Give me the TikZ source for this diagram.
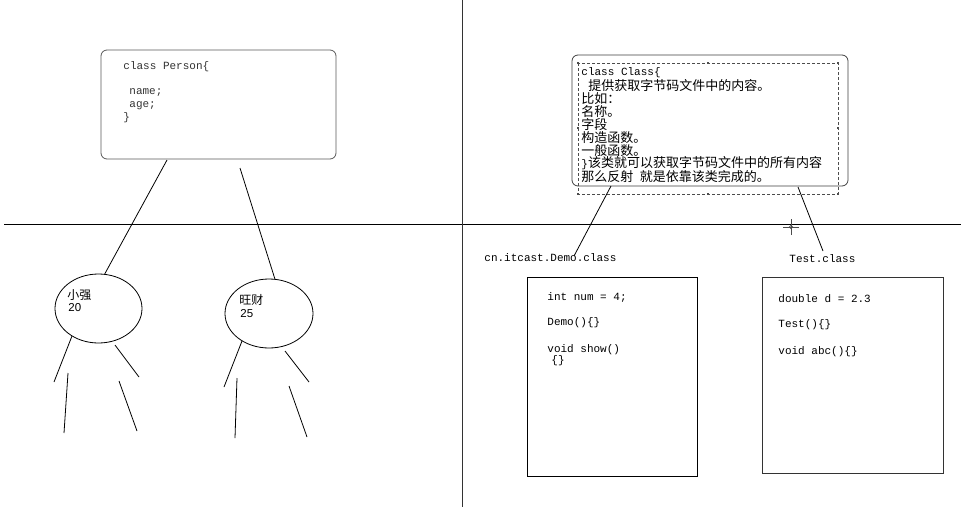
\documentclass[tikz,border=0pt]{standalone}
\usepackage{fontspec}
\setmainfont{Liberation Sans}
\setmonofont{Liberation Mono}
\newfontfamily\cjk{Noto Sans CJK SC}
\usetikzlibrary{shapes.geometric}
\begin{document}
\begin{tikzpicture}[x=1pt,y=-1pt,line width=0.8pt,
  mono/.style={font=\fontsize{11}{13}\selectfont\ttfamily, anchor=west, inner sep=0pt, text=black},
  pmono/.style={mono, text=black!80},
  cjktext/.style={font=\fontsize{13}{15}\selectfont\cjk, anchor=west, inner sep=0pt},
  roundbox/.style={draw=black!65, rounded corners=6pt, anchor=north west, inner sep=0pt, outer sep=0pt},
  plainbox/.style={draw=black, anchor=north west, inner sep=0pt, outer sep=0pt},
  blob/.style={draw=black, ellipse, inner sep=0pt, outer sep=0pt},
  handle/.style={fill=black!70, inner sep=0pt, minimum size=2.2pt},
  wire/.style={draw=black, line width=0.8pt}]
\useasboundingbox (0,0) rectangle (961,507);
\fill[white] (0,0) rectangle (961,507);

% axes
\coordinate (hl) at (4,224);
\coordinate (hr) at (961,224);
\coordinate (vt) at (462,0);
\coordinate (vb) at (462,507);
\draw[wire] (hl) -- (hr);
\draw[wire, draw=black!80] (vt) -- (vb);

% Person box
\node[roundbox, minimum width=235pt, minimum height=109pt] (person) at (101,50) {};
\node[pmono] (pl1) at (123,67) {class Person\{};
\node[pmono] (pl2) at (129,93) {name;};
\node[pmono] (pl3) at (129,106) {age;};
\node[pmono] (pl4) at (123,118) {\}};

% ellipses
\node[blob, minimum width=87pt, minimum height=69pt] (xq) at (98.5,308.5) {};
\node[blob, minimum width=88pt, minimum height=69pt] (wc) at (269,313.5) {};
\node[font=\fontsize{12}{14}\selectfont\cjk, anchor=west, inner sep=0pt] (xqn) at (67,295) {小强};
\node[font=\fontsize{11.5}{13}\selectfont, anchor=west, inner sep=0pt] (xqa) at (68,308) {20};
\node[font=\fontsize{12}{14}\selectfont\cjk, anchor=west, inner sep=0pt] (wcn) at (239,300) {旺财};
\node[font=\fontsize{11.5}{13}\selectfont, anchor=west, inner sep=0pt] (wca) at (240,314) {25};

\coordinate (pa) at (167,160);
\coordinate (pb) at (240,168);
\draw[wire] (pa) -- (xq.80);
\draw[wire] (pb) -- (wc.80);

% legs
\coordinate (a1) at (72,336);  \coordinate (a2) at (54,382);
\coordinate (a3) at (68,373);  \coordinate (a4) at (64,433);
\coordinate (a5) at (115,345); \coordinate (a6) at (139,377);
\coordinate (a7) at (119,381); \coordinate (a8) at (137,431);
\coordinate (b1) at (242,341); \coordinate (b2) at (224,387);
\coordinate (b3) at (237,378); \coordinate (b4) at (235,438);
\coordinate (b5) at (285,351); \coordinate (b6) at (309,382);
\coordinate (b7) at (289,386); \coordinate (b8) at (307,437);
\draw[wire] (a1)--(a2) (a3)--(a4) (a5)--(a6) (a7)--(a8);
\draw[wire] (b1)--(b2) (b3)--(b4) (b5)--(b6) (b7)--(b8);

% Class box
\node[roundbox, draw=black!75, minimum width=276pt, minimum height=131pt] (cls) at (572,55) {};
\draw[black!70, line width=0.7pt, dash pattern=on 3pt off 2pt] (578,63) rectangle (838,194);
\foreach \hx/\hy [count=\i] in {578/63,708/63,838/63,578/128,838/128,578/194,708/194,838/194}
  \node[handle] (h\i) at (\hx,\hy) {};

\node[mono] (c1) at (581,73) {class Class\{};
\node[cjktext] (c2) at (588,85.9) {提供获取字节码文件中的内容。};
\node[cjktext] (c3) at (581,98.8) {比如：};
\node[cjktext] (c4) at (581,111.7) {名称。};
\node[cjktext] (c5) at (581,124.6) {字段};
\node[cjktext] (c6) at (581,137.5) {构造函数。};
\node[cjktext] (c7) at (581,150.4) {一般函数。};
\node[cjktext] (c8) at (581,163.3) {{\ttfamily\fontsize{11}{13}\selectfont\}}该类就可以获取字节码文件中的所有内容};
\node[cjktext] (c9) at (581,176.2) {那么反射\hspace{6.5pt}就是依靠该类完成的。};

% labels
\node[mono] (demo) at (484,258) {cn.itcast.Demo.class};
\node[mono] (test) at (789,259) {Test.class};
\coordinate (ca) at (611,186);
\coordinate (ce) at (574,256);
\coordinate (cb) at (798,187);
\coordinate (cf) at (823,251);
\draw[wire] (ca) -- (ce);
\draw[wire] (cb) -- (cf);

% crosshair cursor
\coordinate (cc) at (791,227);
\draw[black!70, line width=0.7pt] ([xshift=-8pt]cc) -- ([xshift=8pt]cc) ([yshift=-8pt]cc) -- ([yshift=8pt]cc);
\draw[black!70, line width=0.6pt] (cc) circle (1.6pt);

% Demo box
\node[plainbox, minimum width=170pt, minimum height=199pt] (dbox) at (527,277) {};
\node[mono] (d1) at (547,297) {int num = 4;};
\node[mono] (d2) at (547,323) {Demo()\{\}};
\node[mono] (d3) at (547,350) {void show()};
\node[mono] (d4) at (551,361) {\{\}};

% Test box
\node[plainbox, draw=black!80, minimum width=181pt, minimum height=196pt] (tbox) at (762,277) {};
\node[mono] (t1) at (778,299) {double d = 2.3};
\node[mono] (t2) at (778,325) {Test()\{\}};
\node[mono] (t3) at (778,352) {void abc()\{\}};
\end{tikzpicture}
\end{document}
